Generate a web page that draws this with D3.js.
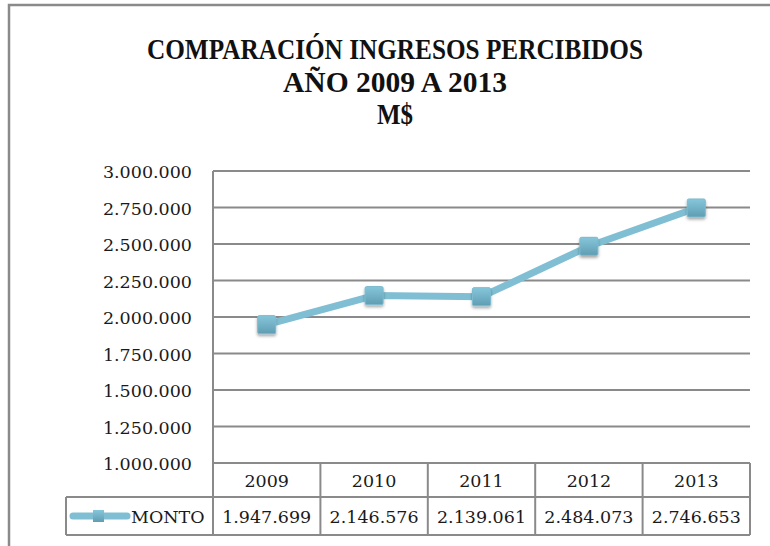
<!DOCTYPE html>
<html lang="es">
  <head>
    <meta charset="UTF-8" />
    <title>Comparación ingresos percibidos</title>
    <script src="https://d3js.org/d3.v7.min.js"></script>
    <style>
      body {
        margin: 0;
        background: #fff;
      }
      svg text {
        font-family: "DejaVu Serif", serif;
        fill: #1a1a1a;
      }
      .grid line,
      .tabla line {
        stroke: #8a8a8a;
        stroke-width: 2px;
      }
    </style>
  </head>
  <body>
    <svg width="770" height="546"></svg>

    <script>
      // datos del gráfico
      const years = ["2009", "2010", "2011", "2012", "2013"];
      const monto = [1947699, 2146576, 2139061, 2484073, 2746653];
      const yTicks = [1000000, 1250000, 1500000, 1750000, 2000000, 2250000, 2500000, 2750000, 3000000];
      const titleLines = ["COMPARACIÓN INGRESOS PERCIBIDOS", "AÑO 2009 A 2013", "M$"];
      const seriesName = "MONTO";

      const svg = d3.select("svg");
      const plotL = 213, plotR = 750, plotT = 171, plotB = 463;
      const rowH = 34, row2H = 38, tableLeft = 66;

      // formato 3.000.000
      const fmt = (v) => d3.format(",")(v).replace(/,/g, ".");

      const x = d3.scaleBand().domain(years).range([plotL, plotR]);
      const y = d3.scaleLinear().domain([1000000, 3000000]).range([plotB, plotT]);

      // marco exterior
      svg.append("path")
        .attr("d", "M9,560 L9,5 L780,5")
        .attr("fill", "none")
        .attr("stroke", "#8a8a8a")
        .attr("stroke-width", 2.5);

      // título
      const titleLen = [496, 224, 36];
      svg.append("g")
        .selectAll("text")
        .data(titleLines)
        .join("text")
        .attr("x", 395)
        .attr("y", (d, i) => 59 + i * 32.5)
        .attr("text-anchor", "middle")
        .attr("textLength", (d, i) => titleLen[i])
        .attr("lengthAdjust", "spacingAndGlyphs")
        .style("font-family", "'Liberation Serif', serif")
        .style("font-weight", "bold")
        .style("font-size", "29px")
        .style("fill", "#111")
        .text((d) => d);

      // líneas de cuadrícula
      svg.append("g")
        .attr("class", "grid")
        .selectAll("line")
        .data(yTicks)
        .join("line")
        .attr("x1", plotL)
        .attr("x2", plotR)
        .attr("y1", (d) => y(d))
        .attr("y2", (d) => y(d));

      // etiquetas eje y
      svg.append("g")
        .selectAll("text")
        .data(yTicks)
        .join("text")
        .attr("x", 192)
        .attr("y", (d) => y(d) + 7)
        .attr("text-anchor", "end")
        .style("font-size", "17.5px")
        .text((d) => fmt(d));

      // tabla de datos
      const tabla = svg.append("g").attr("class", "tabla");
      // eje vertical izquierdo hasta el final de la tabla
      tabla.append("line")
        .attr("x1", plotL).attr("x2", plotL)
        .attr("y1", plotT).attr("y2", plotB + rowH + row2H);
      // separadores de columnas
      tabla.selectAll(".col")
        .data(years)
        .join("line")
        .attr("class", "col")
        .attr("x1", (d) => x(d) + x.bandwidth())
        .attr("x2", (d) => x(d) + x.bandwidth())
        .attr("y1", plotB)
        .attr("y2", plotB + rowH + row2H);
      // filas horizontales
      tabla.append("line")
        .attr("x1", tableLeft).attr("x2", plotR)
        .attr("y1", plotB + rowH).attr("y2", plotB + rowH);
      tabla.append("line")
        .attr("x1", tableLeft).attr("x2", plotR)
        .attr("y1", plotB + rowH + row2H).attr("y2", plotB + rowH + row2H);
      tabla.append("line")
        .attr("x1", tableLeft).attr("x2", tableLeft)
        .attr("y1", plotB + rowH).attr("y2", plotB + rowH + row2H);

      // años
      svg.append("g")
        .selectAll("text")
        .data(years)
        .join("text")
        .attr("x", (d) => x(d) + x.bandwidth() / 2)
        .attr("y", plotB + rowH / 2 + 6.5)
        .attr("text-anchor", "middle")
        .style("font-size", "17.5px")
        .text((d) => d);

      // valores
      svg.append("g")
        .selectAll("text")
        .data(monto)
        .join("text")
        .attr("x", (d, i) => x(years[i]) + x.bandwidth() / 2)
        .attr("y", plotB + rowH + row2H / 2 + 6.5)
        .attr("text-anchor", "middle")
        .style("font-size", "17.5px")
        .text((d) => fmt(d));

      // gradiente y sombra del marcador
      const defs = svg.append("defs");
      const grad = defs.append("linearGradient")
        .attr("id", "mk").attr("x1", 0).attr("y1", 0).attr("x2", 0).attr("y2", 1);
      grad.append("stop").attr("offset", "0%").attr("stop-color", "#86c6da");
      grad.append("stop").attr("offset", "100%").attr("stop-color", "#5f9db3");
      const sh = defs.append("filter").attr("id", "sh")
        .attr("x", "-50%").attr("y", "-50%").attr("width", "200%").attr("height", "200%");
      sh.append("feDropShadow")
        .attr("dx", 0).attr("dy", 2).attr("stdDeviation", 1.8)
        .attr("flood-color", "#000").attr("flood-opacity", 0.35);

      // serie
      const pts = monto.map((v, i) => [x(years[i]) + x.bandwidth() / 2, y(v)]);
      svg.append("path")
        .datum(pts)
        .attr("d", d3.line())
        .attr("fill", "none")
        .attr("stroke", "#80bfd3")
        .attr("stroke-width", 7)
        .attr("stroke-linejoin", "round");

      svg.append("g")
        .selectAll("rect")
        .data(pts)
        .join("rect")
        .attr("x", (d) => d[0] - 9)
        .attr("y", (d) => d[1] - 9)
        .attr("width", 18)
        .attr("height", 18)
        .attr("rx", 1.5)
        .attr("fill", "url(#mk)")
        .attr("stroke", "#7bbacf")
        .attr("stroke-width", 1)
        .attr("filter", "url(#sh)");

      // leyenda en la tabla
      const ly = plotB + rowH + row2H / 2;
      svg.append("line")
        .attr("x1", 73).attr("x2", 127)
        .attr("y1", ly).attr("y2", ly)
        .attr("stroke", "#80bfd3")
        .attr("stroke-width", 7)
        .attr("stroke-linecap", "round");
      svg.append("rect")
        .attr("x", 93).attr("y", ly - 6)
        .attr("width", 11).attr("height", 12)
        .attr("fill", "url(#mk)");
      svg.append("text")
        .attr("x", 131)
        .attr("y", ly + 6.5)
        .style("font-size", "17.5px")
        .text(seriesName);
    </script>
  </body>
</html>
